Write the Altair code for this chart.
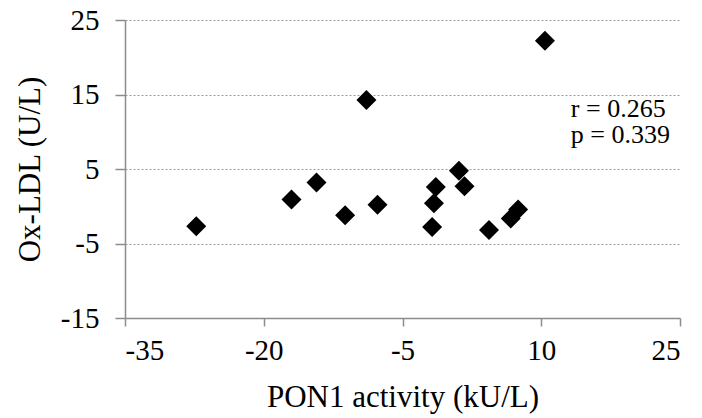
import altair as alt
import pandas as pd

pon1 = [-27.3, -17.0, -14.3, -11.2, -8.9, -7.7, -1.8, -1.6, -1.4, 1.1, 1.7, 4.35, 6.7, 7.5, 10.4]
oxldl = [-2.7, 0.9, 3.2, -1.2, 14.25, 0.2, -2.8, 0.4, 2.6, 4.75, 2.7, -3.2, -1.65, -0.44, 22.2]
ann_text = ["r = 0.265", "p = 0.339"]
ann_x = [13.2, 13.2]
ann_y = [12.0, 8.5]

df = pd.DataFrame({"x": pon1, "y": oxldl})
ann = pd.DataFrame({"x": ann_x, "y": ann_y, "t": ann_text})

FONT = "Liberation Serif"

xs = alt.Scale(domain=[-35, 25], nice=False, zero=False)
ys = alt.Scale(domain=[-15, 25], nice=False, zero=False)

points = alt.Chart(df).mark_point(
    shape="diamond", filled=True, size=400, color="black", opacity=1
).encode(
    x=alt.X("x:Q", scale=xs, title="PON1 activity (kU/L)",
            axis=alt.Axis(values=[-35, -20, -5, 10, 25], grid=False,
                          labelExpr="toString(datum.value)",
                          domainColor="#8c8c8c", domainWidth=1.5,
                          tickColor="#8c8c8c", tickWidth=1.5, tickSize=8,
                          labelFont=FONT, labelFontSize=29, labelColor="black",
                          labelPadding=10, titleFont=FONT, titleFontSize=31,
                          titleFontWeight="normal", titleColor="black", titlePadding=17)),
    y=alt.Y("y:Q", scale=ys, title="Ox-LDL (U/L)",
            axis=alt.Axis(values=[-15, -5, 5, 15, 25], grid=True,
                          labelExpr="toString(datum.value)",
                          gridColor="#9a9a9a", gridDash=[2, 2], gridWidth=1,
                          domainColor="#8c8c8c", domainWidth=1.5,
                          tickColor="#8c8c8c", tickWidth=1.5, tickSize=10,
                          labelFont=FONT, labelFontSize=29, labelColor="black",
                          labelPadding=16, titleFont=FONT, titleFontSize=31,
                          titleFontWeight="normal", titleColor="black", titlePadding=14)),
)

text = alt.Chart(ann).mark_text(
    align="left", baseline="alphabetic", font=FONT, fontSize=26, color="black"
).encode(
    x=alt.X("x:Q", scale=xs),
    y=alt.Y("y:Q", scale=ys),
    text="t:N",
)

chart = alt.layer(points, text).properties(
    width=555, height=298,
    autosize=alt.AutoSizeParams(type="none"),
    padding={"left": 117, "top": 12, "right": 14, "bottom": 100},
).configure_view(stroke=None)

chart.save("out.html", embed_options={"renderer": "svg", "actions": False})
